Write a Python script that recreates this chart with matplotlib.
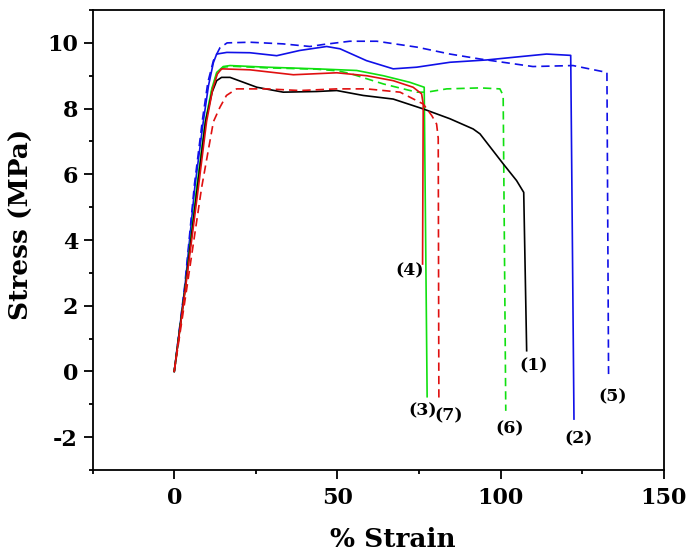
import matplotlib
matplotlib.use('Agg')
import matplotlib.pyplot as plt
from matplotlib.ticker import MultipleLocator

plt.rcParams['font.family'] = ['DejaVu Serif']
plt.rcParams['font.weight'] = 'bold'
plt.rcParams['axes.unicode_minus'] = False

# stress-strain curves, (strain %, stress MPa)
strain_1 = [0, 3.3, 7.1, 9.6, 11.6, 13.0, 14.5, 17.1, 25.3, 33.4, 43.6, 49.8, 57.9, 67.1, 76.3, 84.5, 91.6, 93.7, 100.8, 104.9, 107.1, 108.0]
stress_1 = [0, 2.5, 5.6, 7.6, 8.5, 8.85, 8.95, 8.95, 8.65, 8.50, 8.52, 8.55, 8.40, 8.29, 7.99, 7.69, 7.38, 7.23, 6.32, 5.81, 5.45, 0.63]

strain_2 = [0, 3.3, 6.3, 8.9, 10.5, 12.0, 13.0, 16.1, 23.2, 31.4, 38.5, 46.7, 50.8, 58.9, 67.1, 74.3, 84.5, 95.7, 105.9, 114.1, 121.5, 122.5]
stress_2 = [0, 2.6, 5.6, 7.6, 8.7, 9.4, 9.66, 9.71, 9.70, 9.61, 9.77, 9.89, 9.82, 9.46, 9.21, 9.26, 9.41, 9.48, 9.58, 9.66, 9.62, -1.45]

strain_3 = [0, 3.3, 6.9, 9.5, 11.5, 13.0, 15.0, 17.1, 28.3, 43.6, 55.9, 64.1, 72.2, 76.6, 77.5]
stress_3 = [0, 2.5, 5.6, 7.6, 8.6, 9.1, 9.28, 9.31, 9.26, 9.21, 9.16, 9.00, 8.80, 8.65, -0.77]

strain_4 = [0, 3.4, 7.4, 9.9, 11.8, 13.2, 14.5, 23.2, 36.5, 49.8, 59.0, 67.1, 73.2, 75.8, 76.3, 76.1]
stress_4 = [0, 2.5, 5.6, 7.6, 8.6, 9.05, 9.21, 9.18, 9.03, 9.09, 9.00, 8.85, 8.65, 8.45, 8.14, 3.27]

strain_5 = [0, 3.2, 6.2, 8.7, 10.3, 12.0, 14.0, 16.2, 23.2, 33.3, 41.6, 45.6, 53.8, 62.1, 74.4, 84.5, 93.7, 109.9, 122.2, 132.6, 133.1]
stress_5 = [0, 2.6, 5.7, 7.7, 8.8, 9.46, 9.85, 10.0, 10.02, 9.97, 9.89, 9.95, 10.05, 10.05, 9.87, 9.66, 9.51, 9.28, 9.31, 9.10, -0.08]

strain_6 = [0, 3.4, 7.0, 9.6, 11.6, 13.2, 15.2, 17.5, 28.3, 43.6, 50.0, 53.8, 64.1, 74.3, 77.4, 83.5, 93.7, 99.8, 100.8, 101.6]
stress_6 = [0, 2.5, 5.6, 7.6, 8.6, 9.1, 9.26, 9.29, 9.24, 9.2, 9.15, 9.07, 8.75, 8.50, 8.50, 8.60, 8.63, 8.60, 8.40, -1.2]

strain_7 = [0, 3.8, 8.4, 12.0, 14.0, 16.0, 19.1, 28.3, 38.5, 49.8, 59.0, 69.2, 76.3, 78.9, 80.4, 80.9, 81.1]
stress_7 = [0, 2.5, 5.6, 7.6, 8.04, 8.4, 8.6, 8.60, 8.55, 8.60, 8.60, 8.50, 8.14, 7.79, 7.53, 7.1, -0.89]

curve_labels = ['(1)', '(2)', '(3)', '(4)', '(5)', '(6)', '(7)']
label_x = [110.2, 123.8, 76.1, 72.2, 134.4, 102.7, 84.0]
label_y = [0.17, -2.06, -1.2, 3.05, -0.77, -1.75, -1.35]

blue = '#1010e8'
green = '#10e010'
red = '#e01010'
dash = (0, (5, 3))

fig = plt.figure(figsize=(6.9, 5.57), dpi=100)
ax = fig.add_axes([0.1343, 0.1562, 0.8276, 0.8258])

ax.plot(strain_5, stress_5, color=blue, lw=1.2, linestyle=dash)
ax.plot(strain_2, stress_2, color=blue, lw=1.2)
ax.plot(strain_6, stress_6, color=green, lw=1.2, linestyle=dash)
ax.plot(strain_3, stress_3, color=green, lw=1.2)
ax.plot(strain_1, stress_1, color='black', lw=1.2)
ax.plot(strain_7, stress_7, color=red, lw=1.2, linestyle=dash)
ax.plot(strain_4, stress_4, color=red, lw=1.2)

for lbl, lx, ly in zip(curve_labels, label_x, label_y):
    ax.text(lx, ly, lbl, fontsize=12.5, fontweight='bold', ha='center', va='center')

ax.set_xlim(-25, 150)
ax.set_ylim(-3, 11)
ax.xaxis.set_major_locator(MultipleLocator(50))
ax.xaxis.set_minor_locator(MultipleLocator(25))
ax.yaxis.set_major_locator(MultipleLocator(2))
ax.yaxis.set_minor_locator(MultipleLocator(1))

for side in ['left', 'right', 'top', 'bottom']:
    ax.spines[side].set_linewidth(1.3)
ax.tick_params(which='major', direction='out', length=6.5, width=1.3, labelsize=16, pad=4)
ax.tick_params(which='minor', direction='out', length=3, width=1.3)
ax.tick_params(axis='x', which='major', pad=6)

ax.set_xlabel('% Strain', fontsize=19, fontweight='bold', va='center')
ax.set_ylabel('Stress (MPa)', fontsize=19, fontweight='bold', va='center')
ax.xaxis.set_label_coords(0.526, -0.152)
ax.yaxis.set_label_coords(-0.1256, 0.533)

fig.savefig('out.png', dpi=100)
